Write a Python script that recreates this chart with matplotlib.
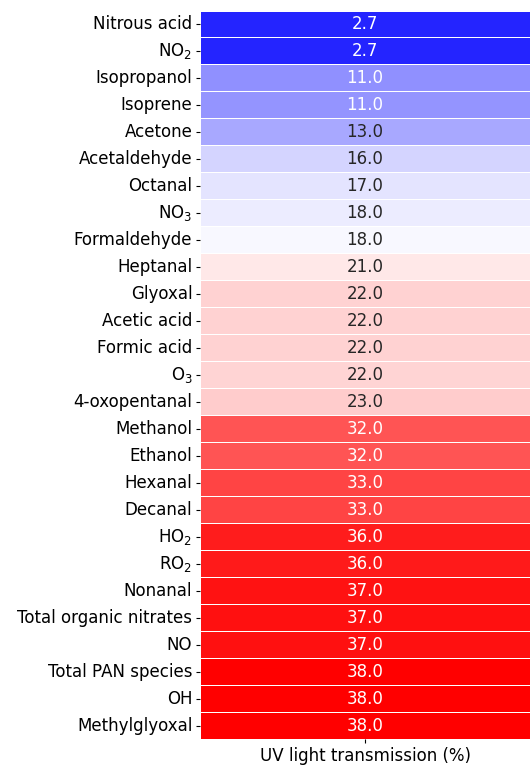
import numpy as np
import pandas as pd
import matplotlib
matplotlib.use("Agg")
import matplotlib.pyplot as plt
import seaborn as sns

species = ["Nitrous acid", "NO$_2$", "Isopropanol", "Isoprene", "Acetone",
           "Acetaldehyde", "Octanal", "NO$_3$", "Formaldehyde", "Heptanal",
           "Glyoxal", "Acetic acid", "Formic acid", "O$_3$", "4-oxopentanal",
           "Methanol", "Ethanol", "Hexanal", "Decanal", "HO$_2$", "RO$_2$",
           "Nonanal", "Total organic nitrates", "NO", "Total PAN species",
           "OH", "Methylglyoxal"]
# values
transmission = [2.7, 2.7, 10.7, 11.1, 12.6, 15.8, 17.0, 17.6, 18.5, 20.7,
                22.4, 22.3, 22.3, 22.2, 22.8, 31.7, 31.7, 32.9, 32.9, 35.9,
                36.0, 36.6, 36.7, 36.8, 37.9, 37.9, 38.0]
# displayed annotation values
shown = [2.7, 2.7, 11.0, 11.0, 13.0, 16.0, 17.0, 18.0, 18.0, 21.0,
         22.0, 22.0, 22.0, 22.0, 23.0, 32.0, 32.0, 33.0, 33.0, 36.0,
         36.0, 37.0, 37.0, 37.0, 38.0, 38.0, 38.0]
column = ["UV light transmission (%)"]

df = pd.DataFrame({column[0]: transmission}, index=species)
annot = np.array([[f"{v:.1f}"] for v in shown])

fig = plt.figure(figsize=(5.30, 7.66), dpi=100)
ax = fig.add_axes([200/530, (766-739)/766, 330/530, (739-10.5)/766])
sns.heatmap(df, ax=ax, cmap="bwr", vmin=0, vmax=38, annot=annot, fmt="",
            linewidths=0.5, linecolor="white", cbar=False,
            annot_kws={"fontsize": 12})
ax.tick_params(axis="both", labelsize=12, length=3, width=0.8, pad=2.5)
plt.setp(ax.get_yticklabels(), rotation=0)
plt.setp(ax.get_xticklabels(), rotation=0)
fig.savefig("out.png", dpi=100)
